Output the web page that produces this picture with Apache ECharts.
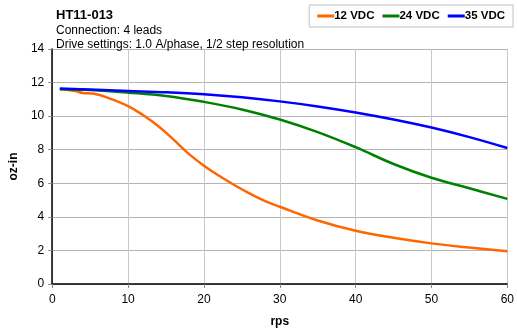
<!DOCTYPE html>
<html><head><meta charset="utf-8">
<script src="https://cdn.jsdelivr.net/npm/echarts@6/dist/echarts.min.js"></script>
<style>html,body{margin:0;padding:0;background:#fff}#c{width:517px;height:333px}</style>
</head><body><div id="c"></div>
<script>
const seriesNames = ['12 VDC', '24 VDC', '35 VDC'];
const colors = ['#ff6600', '#008000', '#0000ff'];
const rps12 = [1, 3, 4, 5.5, 7, 10, 12, 14, 16, 18, 20, 22, 24, 26, 28, 30, 35, 40, 45, 50, 55, 60];
const oz12 = [11.62, 11.5, 11.38, 11.33, 11.15, 10.6, 10.05, 9.4, 8.6, 7.75, 7.05, 6.45, 5.9, 5.4, 4.95, 4.6, 3.78, 3.17, 2.75, 2.42, 2.17, 1.95];
const rps24 = [1, 5, 10, 15, 20, 25, 30, 35, 40, 45, 50, 55, 60];
const oz24 = [11.6, 11.55, 11.4, 11.2, 10.85, 10.4, 9.8, 9.05, 8.15, 7.15, 6.33, 5.7, 5.07];
const rps35 = [1, 5, 10, 15, 20, 25, 30, 35, 40, 45, 50, 55, 60];
const oz35 = [11.65, 11.58, 11.5, 11.42, 11.3, 11.12, 10.88, 10.58, 10.22, 9.8, 9.32, 8.75, 8.1];
const xTicks = [0, 10, 20, 30, 40, 50, 60];
const yTicks = [0, 2, 4, 6, 8, 10, 12, 14];

const chart = echarts.init(document.getElementById('c'), null, {renderer: 'canvas'});
const xs = [rps12, rps24, rps35], ys = [oz12, oz24, oz35];
const series = seriesNames.map((n, i) => ({
  name: n, type: 'line', smooth: 0.4, showSymbol: false, symbol: 'none',
  lineStyle: {color: colors[i], width: 2.5}, itemStyle: {color: colors[i]},
  data: xs[i].map((x, j) => [x, ys[i][j]]), z: 3 + i
}));
chart.setOption({
  animation: false,
  textStyle: {fontFamily: 'Liberation Sans, Arial, sans-serif'},
  title: {
    text: 'HT11-013',
    subtext: 'Connection: 4 leads\nDrive settings: 1.0 A/phase, 1/2 step resolution',
    left: 51, top: 4, itemGap: 2,
    textStyle: {fontSize: 13, fontWeight: 'bold', color: '#000', fontFamily: 'Liberation Sans'},
    subtextStyle: {fontSize: 12, color: '#000', lineHeight: 14, fontFamily: 'Liberation Sans'}
  },
  legend: {
    data: seriesNames, right: 4, top: 5, itemWidth: 17, itemHeight: 3, itemGap: 8,
    borderColor: '#c0c0c0', borderWidth: 1, padding: [5, 8, 5, 8],
    icon: 'rect',
    textStyle: {fontSize: 11.5, fontWeight: 'bold', color: '#000', fontFamily: 'Liberation Sans', padding: [0, 0, 0, -5]}
  },
  grid: {left: 47, right: 5, top: 49, bottom: 48},
  xAxis: {
    type: 'value', min: xTicks[0], max: xTicks[xTicks.length - 1], interval: 10,
    name: 'rps', nameLocation: 'middle', nameGap: 32,
    nameTextStyle: {fontSize: 12, fontWeight: 'bold', color: '#000'},
    axisLine: {show: true, onZero: false, lineStyle: {color: '#000', width: 1.5}},
    axisTick: {show: true, length: 4, lineStyle: {color: '#888'}},
    axisLabel: {fontSize: 12, color: '#000', margin: 10},
    splitLine: {show: true, lineStyle: {color: '#c8c8c8', width: 1}}
  },
  yAxis: {
    type: 'value', min: yTicks[0], max: yTicks[yTicks.length - 1], interval: 2,
    name: 'oz-in', nameLocation: 'middle', nameGap: 29, nameRotate: 90,
    nameTextStyle: {fontSize: 12, fontWeight: 'bold', color: '#000'},
    axisLine: {show: true, onZero: false, lineStyle: {color: '#000', width: 1.5}},
    axisTick: {show: true, length: 4, lineStyle: {color: '#888'}},
    axisLabel: {fontSize: 12, color: '#000', margin: 8},
    splitLine: {show: true, lineStyle: {color: '#b4b4b4', width: 1}}
  },
  series: series
});
</script></body></html>
